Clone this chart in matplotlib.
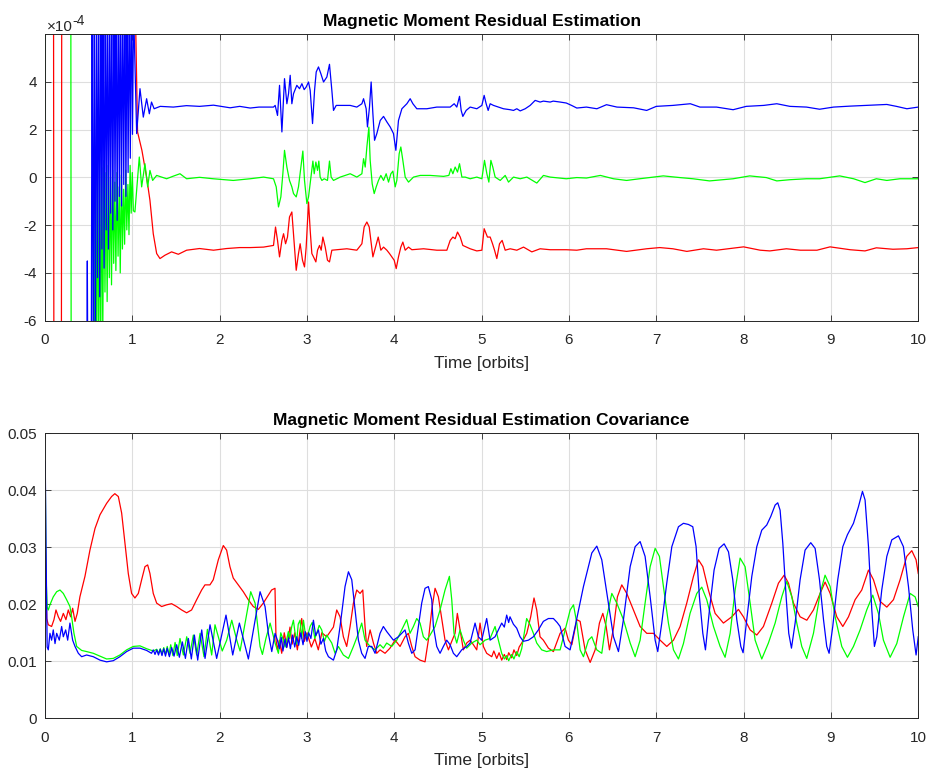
import numpy as np
import matplotlib.pyplot as plt
from matplotlib.ticker import FixedFormatter

plt.rcParams['font.family'] = ['Liberation Sans', 'DejaVu Sans']
plt.rcParams['axes.unicode_minus'] = False

RES_SCALE = 1e-4

# residual estimate (time [orbits], value in 1e-4); values past +-6 run off the axes
resRed = [
    (0.0, 8), (0.098, 8), (0.102, -8), (0.188, -8), (0.192, 8), (1.03, 8), (1.038, 6.5), (1.06, 1.9),
    (1.11, 1.13), (1.164, 0.0), (1.202, -0.96), (1.24, -2.36), (1.279, -3.19), (1.317, -3.40), (1.374, -3.26),
    (1.45, -3.12), (1.527, -3.22), (1.622, -3.05), (1.77, -2.98), (1.93, -3.05), (2.08, -2.98), (2.23, -2.94),
    (2.35, -2.94), (2.503, -2.92), (2.617, -2.85), (2.640, -2.08), (2.663, -2.64), (2.686, -3.33), (2.713, -2.64),
    (2.732, -2.36), (2.755, -2.78), (2.777, -2.50), (2.800, -1.66), (2.827, -1.45), (2.846, -2.36), (2.877, -3.89),
    (2.903, -3.19), (2.922, -2.78), (2.949, -3.47), (2.972, -3.75), (2.991, -2.92), (3.018, -1.03), (3.037, -2.22),
    (3.056, -3.19), (3.075, -3.33), (3.102, -3.54), (3.121, -3.05), (3.144, -2.85), (3.163, -3.05), (3.182, -2.50),
    (3.209, -2.92), (3.235, -3.47), (3.258, -3.54), (3.285, -3.05), (3.342, -3.03), (3.457, -2.99), (3.571, -3.05),
    (3.629, -2.78), (3.655, -2.08), (3.686, -1.87), (3.713, -2.08), (3.732, -2.64), (3.755, -3.33), (3.785, -2.92),
    (3.816, -2.50), (3.846, -3.05), (3.877, -2.92), (3.915, -3.05), (3.945, -3.19), (3.972, -3.33), (3.999, -3.47),
    (4.022, -3.82), (4.048, -3.33), (4.075, -2.92), (4.098, -2.71), (4.125, -3.05), (4.163, -2.92), (4.201, -3.03),
    (4.335, -2.99), (4.487, -3.05), (4.602, -3.05), (4.640, -2.64), (4.671, -2.50), (4.697, -2.57), (4.724, -2.29),
    (4.755, -2.50), (4.785, -2.85), (4.869, -2.99), (4.945, -3.08), (5.003, -3.05), (5.029, -2.15), (5.067, -2.50),
    (5.098, -2.50), (5.125, -2.78), (5.148, -3.05), (5.174, -3.40), (5.205, -2.78), (5.235, -2.64), (5.270, -3.05),
    (5.327, -2.99), (5.403, -3.05), (5.480, -2.92), (5.575, -3.12), (5.670, -2.99), (5.785, -3.03), (5.97, -3.03),
    (6.09, -3.05), (6.20, -2.99), (6.43, -2.99), (6.66, -3.10), (6.89, -2.99), (7.04, -2.94), (7.19, -2.99),
    (7.35, -3.10), (7.54, -2.99), (7.69, -3.05), (8.0, -2.91), (8.19, -3.05), (8.30, -3.08), (8.49, -2.99),
    (8.65, -3.05), (8.84, -3.05), (8.99, -2.91), (9.22, -3.03), (9.39, -3.08), (9.52, -2.95), (9.71, -3.01),
    (9.87, -2.99), (10.0, -2.94),
]

resGreen = [
    (0.0, 2.4), (0.003, 8), (0.296, 8), (0.300, -8), (0.565, -8), (0.575, 0.5), (0.587, -8), (0.600, 0.8),
    (0.612, -8), (0.625, 0.9), (0.637, -8), (0.650, 0.4), (0.662, -6.5), (0.675, 0.7), (0.687, -4.8), (0.700, 0.2),
    (0.712, -5.2), (0.725, 0.5), (0.737, -4.2), (0.750, 0.0), (0.762, -4.5), (0.775, 0.3), (0.787, -3.6),
    (0.800, -0.2), (0.812, -3.9), (0.825, 0.2), (0.837, -3.3), (0.850, -0.4), (0.862, -4.0), (0.875, 0.1),
    (0.887, -3.0), (0.900, -0.5), (0.912, -2.8), (0.925, 0.3), (0.937, -2.2), (0.950, -0.3), (0.962, -2.4),
    (0.975, 0.5), (0.987, -1.5), (1.000, 0.2), (1.012, -1.4), (1.030, -1.45), (1.08, 0.85), (1.107, -0.4),
    (1.145, 0.57), (1.176, -0.4), (1.202, 0.29), (1.233, -0.13), (1.279, 0.08), (1.393, -0.06), (1.47, 0.05),
    (1.546, 0.15), (1.622, -0.06), (1.77, 0.0), (1.927, -0.06), (2.156, -0.13), (2.35, -0.06), (2.503, 0.01),
    (2.617, -0.06), (2.648, -0.40), (2.674, -1.24), (2.701, -0.82), (2.724, 0.15), (2.743, 1.13), (2.770, 0.43),
    (2.800, -0.13), (2.827, -0.40), (2.846, -0.68), (2.877, -0.82), (2.903, -0.40), (2.930, 0.43), (2.953, 1.10),
    (2.972, -0.13), (2.999, -1.10), (3.018, -0.82), (3.045, 0.01), (3.068, 0.68), (3.083, 0.15), (3.102, 0.64),
    (3.121, 0.29), (3.136, 0.68), (3.151, 0.01), (3.171, -0.13), (3.197, -0.06), (3.235, -0.13), (3.258, 0.68),
    (3.277, 0.01), (3.304, -0.13), (3.381, 0.01), (3.495, 0.15), (3.571, 0.01), (3.629, 0.15), (3.648, 0.78),
    (3.667, 0.43), (3.686, 1.27), (3.709, 2.1), (3.724, 0.71), (3.747, -0.27), (3.770, -0.68), (3.793, -0.40),
    (3.819, -0.13), (3.846, 0.08), (3.877, -0.13), (3.907, 0.15), (3.934, -0.20), (3.961, 0.15), (3.984, 0.26),
    (4.010, -0.40), (4.029, -0.13), (4.056, 0.99), (4.075, 1.27), (4.098, 0.71), (4.125, 0.01), (4.163, -0.20),
    (4.220, 0.01), (4.297, 0.08), (4.411, 0.08), (4.564, 0.04), (4.625, 0.08), (4.648, 0.36), (4.671, 0.15),
    (4.697, 0.43), (4.724, 0.22), (4.747, 0.57), (4.774, 0.01), (4.812, 0.01), (4.869, -0.06), (4.945, 0.01),
    (5.003, -0.06), (5.033, 0.71), (5.060, 0.15), (5.083, -0.20), (5.106, 0.71), (5.128, 0.43), (5.155, 0.01),
    (5.213, -0.13), (5.270, 0.08), (5.308, -0.20), (5.365, 0.01), (5.442, -0.06), (5.518, 0.01), (5.632, -0.24),
    (5.708, 0.08), (5.785, 0.01), (5.97, -0.06), (6.09, -0.01), (6.20, -0.03), (6.36, 0.08), (6.51, -0.06),
    (6.66, -0.13), (6.81, -0.06), (7.08, 0.06), (7.27, -0.01), (7.42, -0.06), (7.61, -0.15), (7.88, -0.06),
    (8.07, 0.06), (8.26, -0.01), (8.38, -0.15), (8.53, -0.10), (8.72, -0.06), (8.87, -0.06), (9.10, 0.06),
    (9.26, -0.06), (9.39, -0.22), (9.52, -0.06), (9.64, -0.13), (9.79, -0.06), (10.0, -0.06),
]

resBlue = [
    (0.0, 2.3), (0.003, -8), (0.48, -8), (0.485, -3.5), (0.49, -8), (0.53, -8), (0.540, 8), (0.552, -8),
    (0.565, 8), (0.577, -8), (0.590, 8), (0.602, -4.2), (0.615, 8), (0.627, -5.0), (0.640, 8), (0.652, -3.0),
    (0.665, 8), (0.677, -3.8), (0.690, 8), (0.702, -2.2), (0.715, 8), (0.727, -3.0), (0.740, 8), (0.752, -1.5),
    (0.765, 8), (0.777, -2.2), (0.790, 8), (0.802, -1.0), (0.815, 8), (0.827, -1.8), (0.840, 8), (0.852, -0.8),
    (0.865, 8), (0.877, -1.2), (0.890, 8), (0.902, -0.3), (0.915, 8), (0.927, -0.8), (0.940, 8), (0.952, 0.2),
    (0.965, 8), (0.977, 0.8), (0.990, 8), (1.002, 1.8), (1.015, 7), (1.03, 4.8), (1.05, 1.83), (1.088, 3.71),
    (1.126, 2.52), (1.164, 3.29), (1.195, 2.66), (1.22, 3.15), (1.25, 2.87), (1.32, 2.97), (1.47, 2.94),
    (1.62, 3.0), (1.77, 2.97), (1.93, 3.02), (2.12, 2.91), (2.23, 2.97), (2.35, 2.90), (2.45, 2.94),
    (2.617, 2.94), (2.636, 3.01), (2.663, 2.59), (2.686, 3.85), (2.713, 1.90), (2.743, 4.13), (2.770, 3.08),
    (2.789, 3.50), (2.808, 4.27), (2.827, 3.08), (2.846, 3.50), (2.884, 3.85), (2.915, 3.71), (2.942, 3.92),
    (2.968, 3.67), (2.991, 3.78), (3.018, 3.99), (3.037, 3.64), (3.064, 2.25), (3.087, 3.64), (3.106, 4.41),
    (3.132, 4.62), (3.159, 4.34), (3.190, 3.99), (3.228, 4.20), (3.258, 4.73), (3.285, 3.64), (3.304, 2.80),
    (3.335, 3.01), (3.38, 3.01), (3.495, 3.01), (3.571, 2.94), (3.629, 3.08), (3.648, 3.29), (3.678, 2.87),
    (3.693, 2.11), (3.716, 2.94), (3.735, 3.99), (3.755, 2.66), (3.774, 1.55), (3.80, 1.83), (3.839, 2.38),
    (3.877, 2.55), (3.915, 2.32), (3.953, 2.11), (3.991, 1.83), (4.018, 1.13), (4.048, 2.38), (4.087, 2.87),
    (4.144, 3.08), (4.182, 3.29), (4.213, 3.08), (4.258, 2.87), (4.373, 2.87), (4.487, 2.94), (4.64, 2.94),
    (4.686, 3.08), (4.716, 2.94), (4.747, 3.39), (4.766, 2.80), (4.785, 2.55), (4.823, 2.80), (4.869, 2.94),
    (4.945, 2.87), (5.003, 3.01), (5.029, 3.43), (5.052, 3.08), (5.075, 2.80), (5.098, 3.08), (5.136, 3.01),
    (5.193, 2.94), (5.25, 2.87), (5.327, 2.83), (5.365, 2.80), (5.403, 2.87), (5.442, 2.78), (5.499, 2.87),
    (5.556, 3.01), (5.613, 3.22), (5.670, 3.15), (5.708, 3.19), (5.785, 3.15), (5.82, 3.19), (5.90, 3.15),
    (5.97, 3.11), (6.03, 3.01), (6.09, 2.90), (6.20, 2.94), (6.32, 2.87), (6.43, 3.04), (6.55, 2.94),
    (6.74, 2.91), (6.89, 2.80), (7.0, 2.97), (7.19, 3.01), (7.39, 3.08), (7.5, 2.94), (7.69, 2.94),
    (7.88, 2.83), (8.03, 2.97), (8.23, 3.01), (8.38, 3.08), (8.53, 2.97), (8.72, 2.94), (8.87, 2.85),
    (9.03, 2.94), (9.22, 2.98), (9.41, 3.01), (9.64, 3.05), (9.75, 2.97), (9.87, 2.87), (10.0, 2.94),
]

# covariance (time [orbits], value)
covRed = [
    (0.0, 0.0), (0.004, 0.031), (0.02, 0.0175), (0.038, 0.0164), (0.076, 0.0161), (0.103, 0.0173), (0.126, 0.0190),
    (0.153, 0.0178), (0.179, 0.0170), (0.21, 0.0184), (0.24, 0.0173), (0.267, 0.0190), (0.294, 0.0178),
    (0.317, 0.0193), (0.344, 0.0170), (0.37, 0.0184), (0.40, 0.0213), (0.458, 0.0249), (0.515, 0.0295),
    (0.573, 0.0333), (0.63, 0.0357), (0.706, 0.0377), (0.763, 0.0389), (0.80, 0.0394), (0.84, 0.0389),
    (0.878, 0.0360), (0.916, 0.0307), (0.954, 0.0254), (0.992, 0.0219), (1.03, 0.0211), (1.069, 0.0219),
    (1.107, 0.0243), (1.145, 0.0266), (1.176, 0.0269), (1.202, 0.0254), (1.24, 0.0219), (1.279, 0.0202),
    (1.336, 0.0196), (1.393, 0.0199), (1.45, 0.0201), (1.508, 0.0196), (1.565, 0.0190), (1.622, 0.0185),
    (1.679, 0.0190), (1.737, 0.0208), (1.794, 0.0225), (1.832, 0.0234), (1.889, 0.0234), (1.927, 0.0243),
    (1.985, 0.0278), (2.042, 0.0303), (2.08, 0.0295), (2.118, 0.0266), (2.156, 0.0246), (2.214, 0.0234),
    (2.271, 0.0222), (2.328, 0.0208), (2.385, 0.0196), (2.443, 0.0191), (2.5, 0.0202), (2.557, 0.0216),
    (2.595, 0.0225), (2.634, 0.0228), (2.646, 0.0137), (2.662, 0.0120), (2.684, 0.0137), (2.711, 0.0114),
    (2.74, 0.0150), (2.77, 0.0125), (2.806, 0.0160), (2.83, 0.0130), (2.86, 0.0150), (2.89, 0.0120),
    (2.94, 0.0175), (2.97, 0.0135), (3.0, 0.0150), (3.05, 0.0125), (3.09, 0.0140), (3.13, 0.0120),
    (3.17, 0.0150), (3.226, 0.0143), (3.303, 0.0160), (3.341, 0.0190), (3.379, 0.0178), (3.417, 0.0143),
    (3.455, 0.0126), (3.494, 0.0161), (3.532, 0.0202), (3.57, 0.0225), (3.608, 0.0219), (3.639, 0.0225),
    (3.665, 0.0161), (3.684, 0.0126), (3.723, 0.0155), (3.761, 0.0132), (3.799, 0.0114), (3.837, 0.0120),
    (3.894, 0.0114), (3.951, 0.0123), (4.009, 0.0137), (4.066, 0.0126), (4.123, 0.0143), (4.161, 0.0149),
    (4.2, 0.0126), (4.238, 0.0108), (4.295, 0.0102), (4.352, 0.0099), (4.39, 0.0137), (4.429, 0.0190),
    (4.467, 0.0228), (4.505, 0.0213), (4.543, 0.0175), (4.581, 0.0137), (4.62, 0.0120), (4.658, 0.0135),
    (4.696, 0.0149), (4.722, 0.0184), (4.753, 0.0155), (4.791, 0.0120), (4.829, 0.0132), (4.868, 0.0137),
    (4.906, 0.0129), (4.944, 0.0120), (4.982, 0.0167), (5.02, 0.0126), (5.058, 0.0114), (5.116, 0.0108),
    (5.14, 0.0118), (5.173, 0.0105), (5.20, 0.0115), (5.23, 0.0102), (5.26, 0.0112), (5.287, 0.0103),
    (5.31, 0.0115), (5.345, 0.0106), (5.37, 0.0120), (5.402, 0.0110), (5.43, 0.0125), (5.459, 0.0132),
    (5.517, 0.0149), (5.562, 0.0178), (5.6, 0.0211), (5.631, 0.0190), (5.669, 0.0143), (5.707, 0.0137),
    (5.765, 0.0123), (5.822, 0.0117), (5.899, 0.0149), (5.956, 0.0158), (5.994, 0.0137), (6.033, 0.0129),
    (6.09, 0.0173), (6.128, 0.0170), (6.185, 0.0120), (6.243, 0.0098), (6.3, 0.0120), (6.349, 0.0167),
    (6.388, 0.0184), (6.426, 0.0161), (6.464, 0.0120), (6.51, 0.0158), (6.555, 0.0213), (6.605, 0.0234),
    (6.662, 0.0219), (6.739, 0.0190), (6.815, 0.0161), (6.891, 0.0149), (6.968, 0.0149), (7.044, 0.0137),
    (7.12, 0.0126), (7.197, 0.0137), (7.273, 0.0161), (7.349, 0.0202), (7.426, 0.0249), (7.483, 0.0278),
    (7.533, 0.0266), (7.597, 0.0225), (7.674, 0.0184), (7.769, 0.0167), (7.865, 0.0178), (7.941, 0.0191),
    (7.998, 0.0178), (8.075, 0.0155), (8.151, 0.0146), (8.227, 0.0161), (8.323, 0.0202), (8.399, 0.0237),
    (8.464, 0.0251), (8.514, 0.0237), (8.571, 0.0202), (8.647, 0.0178), (8.724, 0.0172), (8.8, 0.0190),
    (8.876, 0.0219), (8.933, 0.0239), (8.991, 0.0219), (9.067, 0.0178), (9.136, 0.0161), (9.201, 0.0178),
    (9.277, 0.0208), (9.353, 0.0225), (9.43, 0.0260), (9.487, 0.0243), (9.563, 0.0205), (9.64, 0.0195),
    (9.716, 0.0208), (9.792, 0.0243), (9.868, 0.0284), (9.926, 0.0294), (9.975, 0.0278), (10.0, 0.0254),
]

covGreen = [
    (0.0, 0.0), (0.003, 0.044), (0.012, 0.025), (0.025, 0.0195), (0.038, 0.0190), (0.057, 0.0199), (0.095, 0.0213),
    (0.134, 0.0222), (0.172, 0.0225), (0.21, 0.0219), (0.248, 0.0208), (0.286, 0.0196), (0.305, 0.0178),
    (0.332, 0.0149), (0.363, 0.0126), (0.42, 0.0119), (0.477, 0.0117), (0.553, 0.0114), (0.63, 0.0109),
    (0.706, 0.0104), (0.782, 0.0105), (0.858, 0.0111), (0.935, 0.0120), (1.011, 0.0126), (1.088, 0.0127),
    (1.164, 0.0122), (1.24, 0.0118), (1.28, 0.0121), (1.30, 0.0114), (1.32, 0.0122), (1.34, 0.0113),
    (1.36, 0.0124), (1.38, 0.0112), (1.40, 0.0126), (1.42, 0.0111), (1.44, 0.0129), (1.465, 0.0110),
    (1.49, 0.0133), (1.515, 0.0110), (1.546, 0.0140), (1.585, 0.0111), (1.623, 0.0143), (1.661, 0.0114),
    (1.699, 0.0146), (1.737, 0.0111), (1.776, 0.0149), (1.821, 0.0108), (1.86, 0.0156), (1.909, 0.0111),
    (1.947, 0.0164), (2.03, 0.0118), (2.081, 0.0137), (2.139, 0.0172), (2.196, 0.0137), (2.234, 0.0118),
    (2.291, 0.0167), (2.356, 0.0222), (2.406, 0.0202), (2.463, 0.0126), (2.49, 0.0112), (2.53, 0.0140),
    (2.578, 0.0167), (2.635, 0.0132), (2.673, 0.0114), (2.70, 0.0150), (2.73, 0.0137), (2.75, 0.0125),
    (2.787, 0.0152), (2.80, 0.0140), (2.826, 0.0161), (2.845, 0.0172), (2.864, 0.0149), (2.88, 0.0130),
    (2.90, 0.0165), (2.921, 0.0172), (2.94, 0.0140), (2.96, 0.0172), (2.978, 0.0152), (3.0, 0.0140),
    (3.036, 0.0161), (3.06, 0.0168), (3.09, 0.0140), (3.112, 0.0149), (3.14, 0.0163), (3.169, 0.0155),
    (3.2, 0.0135), (3.226, 0.0146), (3.284, 0.0132), (3.322, 0.0114), (3.36, 0.0126), (3.417, 0.0111),
    (3.475, 0.0105), (3.532, 0.0126), (3.589, 0.0149), (3.627, 0.0167), (3.665, 0.0137), (3.723, 0.0126),
    (3.78, 0.0120), (3.837, 0.0129), (3.875, 0.0123), (3.913, 0.0132), (3.971, 0.0126), (4.028, 0.0137),
    (4.085, 0.0155), (4.142, 0.0173), (4.18, 0.0149), (4.219, 0.0161), (4.257, 0.0175), (4.295, 0.0167),
    (4.333, 0.0143), (4.371, 0.0137), (4.41, 0.0146), (4.467, 0.0161), (4.524, 0.0190), (4.581, 0.0225),
    (4.631, 0.0249), (4.658, 0.0208), (4.684, 0.0149), (4.715, 0.0132), (4.753, 0.0155), (4.791, 0.0137),
    (4.829, 0.0123), (4.887, 0.0132), (4.944, 0.0137), (4.982, 0.0129), (5.039, 0.0137), (5.097, 0.0140),
    (5.154, 0.0161), (5.192, 0.0137), (5.23, 0.0114), (5.26, 0.0104), (5.287, 0.0110), (5.31, 0.0101),
    (5.345, 0.0112), (5.37, 0.0104), (5.402, 0.0117), (5.43, 0.0108), (5.459, 0.0122), (5.516, 0.0175),
    (5.555, 0.0164), (5.593, 0.0149), (5.631, 0.0132), (5.688, 0.0120), (5.745, 0.0117), (5.822, 0.0120),
    (5.899, 0.0120), (5.956, 0.0155), (6.014, 0.0190), (6.052, 0.0199), (6.09, 0.0167), (6.128, 0.0120),
    (6.166, 0.0108), (6.223, 0.0137), (6.262, 0.0143), (6.319, 0.0120), (6.376, 0.0114), (6.433, 0.0178),
    (6.491, 0.0219), (6.548, 0.0202), (6.624, 0.0173), (6.701, 0.0132), (6.758, 0.0108), (6.815, 0.0137),
    (6.872, 0.0202), (6.93, 0.0266), (6.987, 0.0298), (7.036, 0.0284), (7.082, 0.0231), (7.139, 0.0167),
    (7.197, 0.0120), (7.254, 0.0104), (7.311, 0.0131), (7.387, 0.0184), (7.464, 0.0219), (7.521, 0.0230),
    (7.578, 0.0208), (7.655, 0.0161), (7.731, 0.0126), (7.788, 0.0107), (7.846, 0.0149), (7.903, 0.0225),
    (7.96, 0.0281), (8.017, 0.0266), (8.075, 0.0202), (8.132, 0.0137), (8.208, 0.0104), (8.284, 0.0132),
    (8.361, 0.0167), (8.437, 0.0213), (8.494, 0.0240), (8.552, 0.0213), (8.609, 0.0167), (8.666, 0.0126),
    (8.723, 0.0105), (8.8, 0.0149), (8.876, 0.0219), (8.933, 0.0251), (8.991, 0.0231), (9.048, 0.0178),
    (9.124, 0.0126), (9.189, 0.0107), (9.258, 0.0126), (9.334, 0.0155), (9.41, 0.0190), (9.479, 0.0216),
    (9.544, 0.0184), (9.601, 0.0137), (9.678, 0.0107), (9.754, 0.0131), (9.831, 0.0178), (9.907, 0.0219),
    (9.964, 0.0213), (10.0, 0.0196),
]

covBlue = [
    (0.0, 0.0), (0.003, 0.045), (0.012, 0.030), (0.025, 0.0125), (0.038, 0.0120), (0.057, 0.0149), (0.076, 0.0137),
    (0.095, 0.0155), (0.115, 0.0131), (0.134, 0.0149), (0.164, 0.0137), (0.191, 0.0161), (0.21, 0.0143),
    (0.237, 0.0155), (0.26, 0.0137), (0.286, 0.0167), (0.317, 0.0137), (0.344, 0.0126), (0.382, 0.0114),
    (0.42, 0.0108), (0.477, 0.0111), (0.553, 0.0108), (0.63, 0.0102), (0.706, 0.0099), (0.782, 0.0101),
    (0.858, 0.0108), (0.935, 0.0117), (1.011, 0.0123), (1.088, 0.0123), (1.164, 0.0119), (1.22, 0.0114),
    (1.24, 0.0120), (1.26, 0.0112), (1.28, 0.0120), (1.30, 0.0111), (1.32, 0.0121), (1.34, 0.0110),
    (1.36, 0.0122), (1.38, 0.0109), (1.40, 0.0123), (1.425, 0.0108), (1.451, 0.0124), (1.478, 0.0109),
    (1.508, 0.0129), (1.539, 0.0107), (1.573, 0.0134), (1.608, 0.0105), (1.642, 0.0140), (1.676, 0.0104),
    (1.711, 0.0146), (1.749, 0.0102), (1.795, 0.0155), (1.833, 0.0105), (1.89, 0.0164), (1.966, 0.0105),
    (2.073, 0.0181), (2.15, 0.0111), (2.226, 0.0167), (2.329, 0.0104), (2.463, 0.0222), (2.52, 0.0196),
    (2.558, 0.0149), (2.597, 0.0117), (2.635, 0.0149), (2.662, 0.0137), (2.685, 0.0122), (2.705, 0.0142),
    (2.725, 0.0118), (2.748, 0.0139), (2.768, 0.0124), (2.79, 0.0141), (2.81, 0.0122), (2.835, 0.0146),
    (2.86, 0.0125), (2.883, 0.0143), (2.905, 0.0128), (2.93, 0.0150), (2.955, 0.0129), (2.98, 0.0152),
    (3.0, 0.0135), (3.02, 0.0150), (3.045, 0.0140), (3.074, 0.0172), (3.10, 0.0145), (3.131, 0.0155),
    (3.16, 0.0130), (3.188, 0.0140), (3.215, 0.0118), (3.246, 0.0108), (3.303, 0.0102), (3.341, 0.0120),
    (3.379, 0.0161), (3.436, 0.0231), (3.475, 0.0257), (3.513, 0.0243), (3.551, 0.0190), (3.589, 0.0137),
    (3.627, 0.0114), (3.665, 0.0105), (3.703, 0.0126), (3.742, 0.0126), (3.78, 0.0114), (3.837, 0.0149),
    (3.875, 0.0161), (3.914, 0.0152), (3.99, 0.0137), (4.047, 0.0143), (4.085, 0.0149), (4.123, 0.0155),
    (4.161, 0.0132), (4.2, 0.0114), (4.238, 0.0120), (4.276, 0.0161), (4.314, 0.0202), (4.352, 0.0228),
    (4.39, 0.0231), (4.429, 0.0208), (4.448, 0.0161), (4.486, 0.0126), (4.524, 0.0114), (4.562, 0.0126),
    (4.6, 0.0137), (4.639, 0.0129), (4.677, 0.0114), (4.715, 0.0108), (4.772, 0.0120), (4.829, 0.0126),
    (4.868, 0.0132), (4.925, 0.0167), (4.963, 0.0143), (5.001, 0.0137), (5.058, 0.0175), (5.097, 0.0137),
    (5.154, 0.0143), (5.192, 0.0155), (5.23, 0.0167), (5.26, 0.0160), (5.287, 0.0181), (5.31, 0.0168),
    (5.325, 0.0178), (5.364, 0.0165), (5.402, 0.0158), (5.44, 0.0143), (5.478, 0.0135), (5.536, 0.0137),
    (5.593, 0.0143), (5.65, 0.0155), (5.707, 0.0170), (5.765, 0.0175), (5.822, 0.0175), (5.865, 0.0168),
    (5.899, 0.0161), (5.956, 0.0126), (6.013, 0.0120), (6.071, 0.0161), (6.166, 0.0231), (6.262, 0.0290),
    (6.319, 0.0302), (6.376, 0.0278), (6.452, 0.0202), (6.51, 0.0143), (6.567, 0.0117), (6.624, 0.0173),
    (6.701, 0.0266), (6.758, 0.0301), (6.815, 0.0310), (6.872, 0.0284), (6.93, 0.0213), (6.987, 0.0137),
    (7.017, 0.0117), (7.063, 0.0167), (7.12, 0.0237), (7.178, 0.0301), (7.254, 0.0336), (7.311, 0.0342),
    (7.368, 0.0340), (7.418, 0.0336), (7.456, 0.0301), (7.494, 0.0213), (7.533, 0.0149), (7.563, 0.0120),
    (7.609, 0.0190), (7.662, 0.0260), (7.72, 0.0298), (7.777, 0.0306), (7.827, 0.0292), (7.876, 0.0243),
    (7.922, 0.0173), (7.968, 0.0126), (7.994, 0.0115), (8.036, 0.0173), (8.094, 0.0249), (8.151, 0.0301),
    (8.208, 0.0330), (8.265, 0.0339), (8.311, 0.0354), (8.361, 0.0374), (8.391, 0.0378), (8.418, 0.0365),
    (8.449, 0.0307), (8.487, 0.0213), (8.517, 0.0149), (8.548, 0.0123), (8.59, 0.0167), (8.647, 0.0243),
    (8.704, 0.0295), (8.769, 0.0308), (8.819, 0.0298), (8.869, 0.0243), (8.915, 0.0173), (8.952, 0.0126),
    (8.979, 0.0114), (9.021, 0.0161), (9.078, 0.0243), (9.136, 0.0301), (9.189, 0.0322), (9.258, 0.0342),
    (9.315, 0.0371), (9.361, 0.0398), (9.391, 0.0383), (9.43, 0.0301), (9.468, 0.0190), (9.498, 0.0126),
    (9.525, 0.0143), (9.582, 0.0225), (9.64, 0.0284), (9.697, 0.0313), (9.773, 0.0320), (9.83, 0.0301),
    (9.888, 0.0231), (9.937, 0.0155), (9.975, 0.0111), (10.0, 0.0143),
]

xTicks = list(range(11))
resTicks = [-6e-4, -4e-4, -2e-4, 0, 2e-4, 4e-4]
resTickLabels = ['-6', '-4', '-2', '0', '2', '4']
covTicks = [0, 0.01, 0.02, 0.03, 0.04, 0.05]
covTickLabels = ['0', '0.01', '0.02', '0.03', '0.04', '0.05']

TEXT_COLOR = '#262626'
RED, GREEN, BLUE = '#ff0000', '#00ff00', '#0000ff'


def styleAxes(ax, title):
    ax.set_xlim(0, 10)
    ax.set_xticks(xTicks)
    ax.grid(True, color='#dedede', linewidth=0.8)
    ax.set_axisbelow(True)
    ax.tick_params(direction='in', length=4, width=0.6, top=True, right=True,
                   labelsize=11, colors=TEXT_COLOR)
    ax.tick_params(axis='x', pad=9)
    ax.tick_params(axis='y', pad=6)
    for side in ax.spines.values():
        side.set_color(TEXT_COLOR)
        side.set_linewidth(0.7)
    ax.set_xlabel('Time [orbits]', fontsize=12.5, color=TEXT_COLOR, labelpad=6)
    ax.set_title(title, fontsize=12.5, fontweight='bold', pad=6)


def plotSeries(ax, series, color, scale=1.0):
    data = np.array(series, dtype=float)
    ax.plot(data[:, 0], data[:, 1] * scale, color=color, linewidth=0.9)


fig = plt.figure(figsize=(9.33, 7.72), dpi=100)
axTop = fig.add_axes([0.0482, 0.5846, 0.936, 0.3714])
axBot = fig.add_axes([0.0482, 0.0696, 0.936, 0.3692])

for series, color in [(resRed, RED), (resGreen, GREEN), (resBlue, BLUE)]:
    plotSeries(axTop, series, color, RES_SCALE)
axTop.set_ylim(-6e-4, 6e-4)
axTop.set_yticks(resTicks)
axTop.yaxis.set_major_formatter(FixedFormatter(resTickLabels))
styleAxes(axTop, 'Magnetic Moment Residual Estimation')

# exponent label above the top-left corner, MATLAB style
fig.text(46.5 / 933, 1 - 31 / 772, '\u00d710', fontsize=11, color=TEXT_COLOR, va='baseline', ha='left')
fig.text(72.5 / 933, 1 - 25 / 772, '-4', fontsize=10, color=TEXT_COLOR, va='baseline', ha='left')

for series, color in [(covRed, RED), (covGreen, GREEN), (covBlue, BLUE)]:
    plotSeries(axBot, series, color)
axBot.set_ylim(0, 0.05)
axBot.set_yticks(covTicks)
axBot.set_yticklabels(covTickLabels)
styleAxes(axBot, 'Magnetic Moment Residual Estimation Covariance')

fig.savefig('out.png', dpi=100)
